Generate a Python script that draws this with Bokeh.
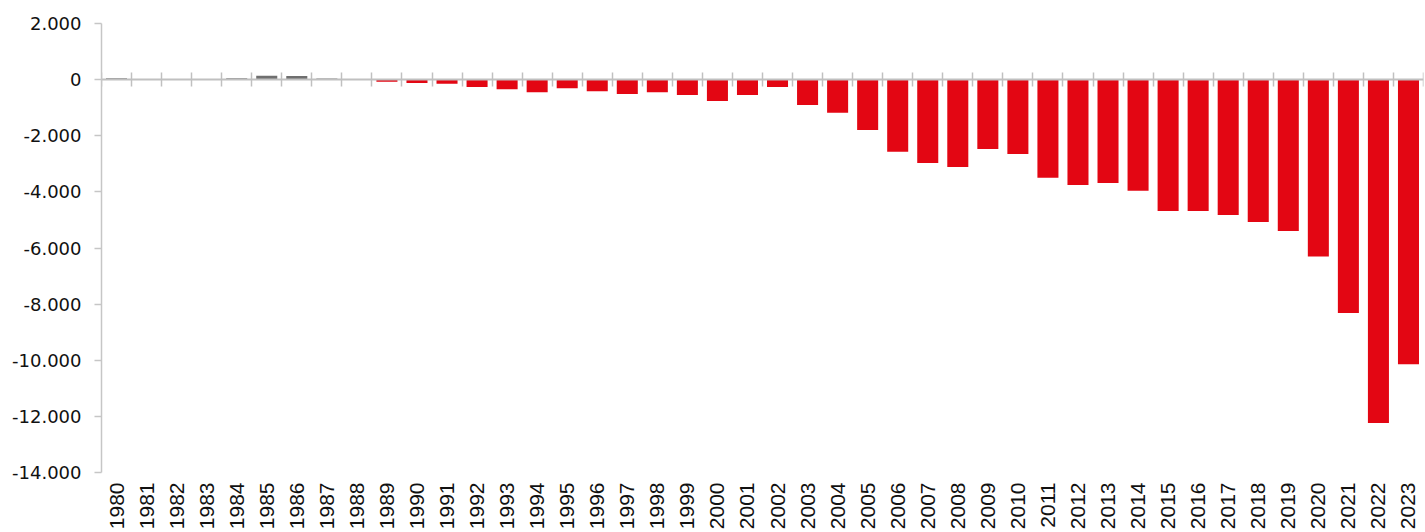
from bokeh.plotting import figure
from bokeh.models import LinearAxis, FixedTicker, Range1d, ColumnDataSource
from bokeh.core.properties import value
from bokeh.embed import file_html
from bokeh.resources import INLINE
import math

years = [str(y) for y in range(1980, 2024)]
values = [50, 0, 20, 0, 50, 140, 130, 40, 0, -80,
          -120, -150, -260, -345, -450, -310, -415, -510, -450, -545,
          -760, -545, -260, -900, -1180, -1795, -2570, -2970, -3115, -2475,
          -2650, -3495, -3755, -3685, -3960, -4680, -4680, -4825, -5075, -5395,
          -6300, -8320, -12240, -10140]
y_ticks = [2000, 0, -2000, -4000, -6000, -8000, -10000, -12000, -14000]
y_tick_labels = ["2.000", "0", "-2.000", "-4.000", "-6.000", "-8.000", "-10.000", "-12.000", "-14.000"]

RED = "#E30613"
GREY = "#6f6f6f"

W, H = 1425, 532
TOP, LEFT, RIGHT = 23, 101, 2
AXIS_H = 449  # pixel height of the value axis (2.000 .. -14.000)
frame_h = H - TOP
y_hi, y_lo = y_ticks[0], y_ticks[-1]
# extend the range below the axis so the rotated year labels sit in the frame
y_start = y_hi - (y_hi - y_lo) * frame_h / AXIS_H

xs = list(range(len(years)))
colors = [GREY if v >= 0 else RED for v in values]
src = ColumnDataSource(dict(x=xs, top=values, color=colors, year=years,
                            ybase=[y_lo] * len(years)))

p = figure(width=W, height=H, output_backend="svg", toolbar_location=None,
           x_range=Range1d(-0.5, len(years) - 0.5),
           y_range=Range1d(y_start, y_hi),
           min_border_left=LEFT, min_border_right=RIGHT, min_border_top=TOP, min_border_bottom=0,
           x_axis_location=None, y_axis_location=None)
p.outline_line_color = None
p.border_fill_color = "white"
p.xgrid.visible = False
p.ygrid.visible = False
p.background_fill_color = "white"

p.vbar(x="x", top="top", bottom=0, width=0.7, fill_color="color", line_color=None, source=src)

# y axis
yax = LinearAxis(ticker=FixedTicker(ticks=y_ticks), bounds=(y_lo, y_hi),
                 major_label_overrides={t: l for t, l in zip(y_ticks, y_tick_labels)})
yax.axis_line_color = "#c6c6c6"
yax.axis_line_width = 1.5
yax.major_tick_line_color = "#c6c6c6"
yax.major_tick_line_width = 1.5
yax.major_tick_out = 7
yax.major_tick_in = 0
yax.minor_tick_line_color = None
yax.major_label_text_font = "DejaVu Sans"
yax.major_label_text_font_size = "18px"
yax.major_label_text_color = "#111111"
yax.major_label_standoff = 13
p.add_layout(yax, "left")

# zero line axis with boundary ticks
bounds = [i - 0.5 for i in range(len(years) + 1)]
zax = LinearAxis(ticker=FixedTicker(ticks=[], minor_ticks=bounds), fixed_location=0)
zax.axis_line_color = "#c0c0c0"
zax.axis_line_width = 2
zax.major_tick_line_color = None
zax.minor_tick_line_color = "#c0c0c0"
zax.minor_tick_line_width = 1.5
zax.minor_tick_in = 7
zax.minor_tick_out = 7
zax.major_label_text_font_size = "0px"
p.add_layout(zax, "above")

# rotated year labels (reading bottom to top)
p.text(x="x", y="ybase", text="year", source=src,
       angle=math.pi / 2, y_offset=10,
       text_align="right", text_baseline="middle",
       text_font=value("Liberation Sans"), text_font_size="21px",
       text_color="#111111")

open("out.html", "w").write(file_html(p, INLINE))
